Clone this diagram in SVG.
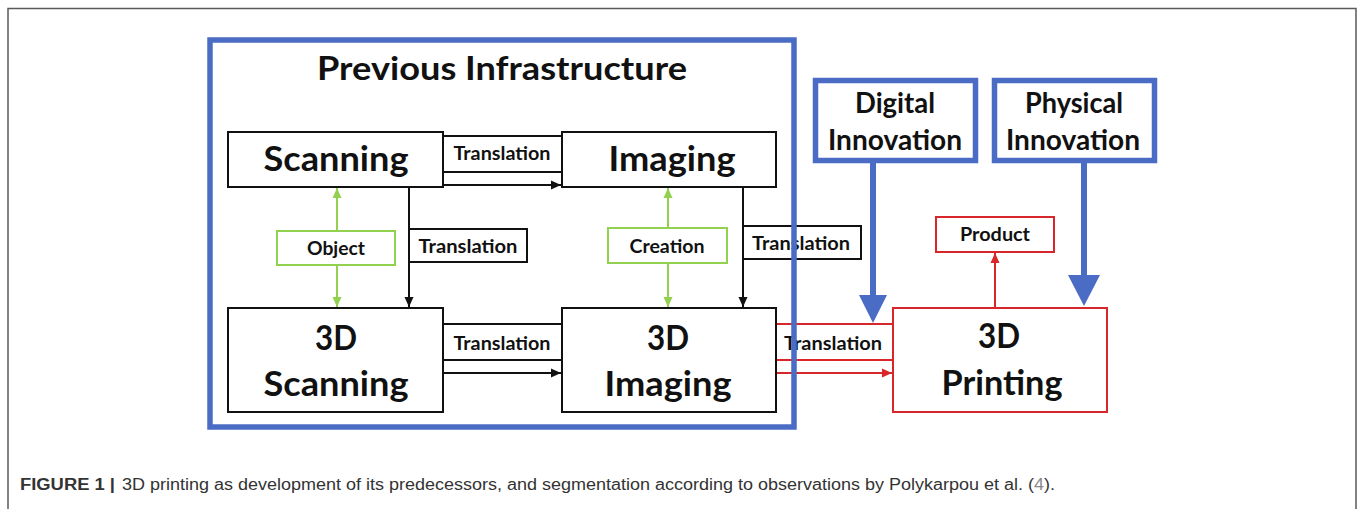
<svg xmlns="http://www.w3.org/2000/svg" width="1357" height="509" viewBox="0 0 1357 509">
  <style>
    .bg { fill: #ffffff; }
    .frame { fill: none; stroke: #5a5a5a; stroke-width: 1.5; }
    .box { fill: #ffffff; stroke: #111111; stroke-width: 2; }
    .lbl { fill: none; stroke: #111111; stroke-width: 2; }
    .gbox { fill: #ffffff; stroke: #92d050; stroke-width: 2; }
    .rbox { fill: #ffffff; stroke: #d9262b; stroke-width: 2; }
    .rlbl { fill: none; stroke: #d9262b; stroke-width: 2; }
    .bbox { fill: none; stroke: #4a6cc4; stroke-width: 5.5; }
    .blk { stroke: #111111; stroke-width: 2; fill: none; }
    .grn { stroke: #92d050; stroke-width: 2; fill: none; }
    .red { stroke: #d9262b; stroke-width: 2; fill: none; }
    .blu { stroke: #4a6cc4; stroke-width: 6; fill: none; }
    .bluhead { fill: #4a6cc4; }
    .t { font-family: Lato, "Open Sans", "Liberation Sans", sans-serif; font-weight: bold; fill: #111111; text-anchor: middle; }
    .big { font-size: 34px; }
    .title { font-size: 33px; }
    .mid { font-size: 29px; }
    .small { font-size: 19px; }
    .cap { font-family: "Liberation Sans", Arial, sans-serif; font-size: 16px; fill: #333333; }
  </style>
  <defs>
    <marker id="ahBlack" viewBox="0 0 10 10" refX="10" refY="5" markerUnits="userSpaceOnUse" markerWidth="10" markerHeight="10" orient="auto">
      <path d="M0,0.5 L10,5 L0,9.5 z" fill="#111111"/>
    </marker>
    <marker id="ahGreen" viewBox="0 0 10 10" refX="10" refY="5" markerUnits="userSpaceOnUse" markerWidth="10" markerHeight="10" orient="auto-start-reverse">
      <path d="M0,0.5 L10,5 L0,9.5 z" fill="#92d050"/>
    </marker>
    <marker id="ahRed" viewBox="0 0 10 10" refX="10" refY="5" markerUnits="userSpaceOnUse" markerWidth="10" markerHeight="10" orient="auto">
      <path d="M0,0.5 L10,5 L0,9.5 z" fill="#d9262b"/>
    </marker>
  </defs>

  <rect class="bg" x="0" y="0" width="1357" height="509"/>
  <!-- figure frame: open at the bottom -->
  <path class="frame" d="M8,509 V8.5 H1356 V509"/>

  <!-- connectors -->
  <g id="connectors">
    <!-- Scanning -> Imaging -->
    <rect class="lbl" x="443" y="136" width="119" height="36"/>
    <line class="blk" x1="443" y1="185" x2="561" y2="185" marker-end="url(#ahBlack)"/>
    <!-- Scanning -> 3D Scanning -->
    <line class="blk" x1="409" y1="187" x2="409" y2="307" marker-end="url(#ahBlack)"/>
    <rect class="lbl" x="409" y="229" width="118" height="33"/>
    <!-- Imaging -> 3D Imaging -->
    <line class="blk" x1="743" y1="187" x2="743" y2="307" marker-end="url(#ahBlack)"/>
    <rect class="lbl" x="743" y="226" width="118" height="33"/>
    <!-- 3D Scanning -> 3D Imaging -->
    <rect class="lbl" x="443" y="324" width="119" height="36"/>
    <line class="blk" x1="443" y1="373" x2="561" y2="373" marker-end="url(#ahBlack)"/>
    <!-- Object / Creation double arrows -->
    <line class="grn" x1="337" y1="188" x2="337" y2="307" marker-start="url(#ahGreen)" marker-end="url(#ahGreen)"/>
    <line class="grn" x1="668" y1="188" x2="668" y2="307" marker-start="url(#ahGreen)" marker-end="url(#ahGreen)"/>
    <!-- 3D Imaging -> 3D Printing -->
    <rect class="rlbl" x="776" y="324" width="117" height="36"/>
    <line class="red" x1="776" y1="373" x2="892" y2="373" marker-end="url(#ahRed)"/>
    <!-- 3D Printing -> Product -->
    <line class="red" x1="995" y1="308" x2="995" y2="253" marker-end="url(#ahRed)"/>
  </g>

  <!-- green label boxes sit on the double arrows -->
  <g id="object">
    <rect class="gbox" x="277" y="231" width="118" height="34"/>
    <text class="t small" x="336" y="255" textLength="58" lengthAdjust="spacingAndGlyphs">Object</text>
  </g>
  <g id="creation">
    <rect class="gbox" x="608" y="228" width="119" height="35"/>
    <text class="t small" x="667" y="253" textLength="75" lengthAdjust="spacingAndGlyphs">Creation</text>
  </g>

  <!-- connector labels -->
  <g id="connector-labels">
    <text class="t small" x="502" y="160" textLength="97" lengthAdjust="spacingAndGlyphs">Translation</text>
    <text class="t small" x="468" y="253" textLength="99" lengthAdjust="spacingAndGlyphs">Translation</text>
    <text class="t small" x="801" y="250" textLength="98" lengthAdjust="spacingAndGlyphs">Translation</text>
    <text class="t small" x="502" y="350" textLength="97" lengthAdjust="spacingAndGlyphs">Translation</text>
    <text class="t small" x="833" y="350" textLength="98" lengthAdjust="spacingAndGlyphs">Translation</text>
  </g>

  <g id="scanning">
    <rect class="box" x="228" y="132" width="215" height="55"/>
    <text class="t big" x="336" y="171" textLength="145" lengthAdjust="spacingAndGlyphs">Scanning</text>
  </g>
  <g id="imaging">
    <rect class="box" x="562" y="132" width="214" height="55"/>
    <text class="t big" x="672" y="171" textLength="127" lengthAdjust="spacingAndGlyphs">Imaging</text>
  </g>
  <g id="scanning-3d">
    <rect class="box" x="228" y="308" width="215" height="104"/>
    <text class="t big" x="336" y="350" textLength="42" lengthAdjust="spacingAndGlyphs">3D</text>
    <text class="t big" x="336" y="396" textLength="145" lengthAdjust="spacingAndGlyphs">Scanning</text>
  </g>
  <g id="imaging-3d">
    <rect class="box" x="562" y="308" width="214" height="104"/>
    <text class="t big" x="668" y="350" textLength="42" lengthAdjust="spacingAndGlyphs">3D</text>
    <text class="t big" x="668" y="396" textLength="127" lengthAdjust="spacingAndGlyphs">Imaging</text>
  </g>

  <!-- previous infrastructure container, drawn over the crossing labels -->
  <g id="previous-infrastructure">
    <rect class="bbox" x="210" y="40" width="584" height="387"/>
    <text class="t title" x="502" y="80" textLength="370" lengthAdjust="spacingAndGlyphs">Previous Infrastructure</text>
  </g>

  <g id="printing-3d">
    <rect class="rbox" x="893" y="308" width="214" height="104"/>
    <text class="t big" x="999" y="348" textLength="42" lengthAdjust="spacingAndGlyphs">3D</text>
    <text class="t big" x="1002" y="395" textLength="121" lengthAdjust="spacingAndGlyphs">Printing</text>
  </g>
  <g id="product">
    <rect class="rbox" x="936" y="217" width="118" height="35"/>
    <text class="t small" x="995" y="241" textLength="70" lengthAdjust="spacingAndGlyphs">Product</text>
  </g>

  <g id="digital-innovation">
    <rect class="bbox" x="815.5" y="80.5" width="160" height="80"/>
    <text class="t mid" x="895" y="113" textLength="80" lengthAdjust="spacingAndGlyphs">Digital</text>
    <text class="t mid" x="895" y="150" textLength="134" lengthAdjust="spacingAndGlyphs">Innovation</text>
  </g>
  <g id="physical-innovation">
    <rect class="bbox" x="994.5" y="80.5" width="160" height="80"/>
    <text class="t mid" x="1074" y="113" textLength="98" lengthAdjust="spacingAndGlyphs">Physical</text>
    <text class="t mid" x="1073" y="150" textLength="134" lengthAdjust="spacingAndGlyphs">Innovation</text>
  </g>

  <!-- innovation inputs into 3D printing -->
  <g id="innovation-arrows">
    <line class="blu" x1="873" y1="163" x2="873" y2="297"/>
    <polygon class="bluhead" points="859,295 887,295 873,323"/>
    <line class="blu" x1="1084" y1="163" x2="1084" y2="277"/>
    <polygon class="bluhead" points="1068,275 1100,275 1084,306"/>
  </g>

  <!-- caption -->
  <text class="cap" x="20" y="490" font-weight="bold" textLength="95" lengthAdjust="spacingAndGlyphs">FIGURE 1 |</text>
  <text class="cap" x="122" y="490" textLength="933" lengthAdjust="spacingAndGlyphs">3D printing as development of its predecessors, and segmentation according to observations by Polykarpou et al. (<tspan fill="#8a8a8a">4</tspan>).</text>
</svg>
